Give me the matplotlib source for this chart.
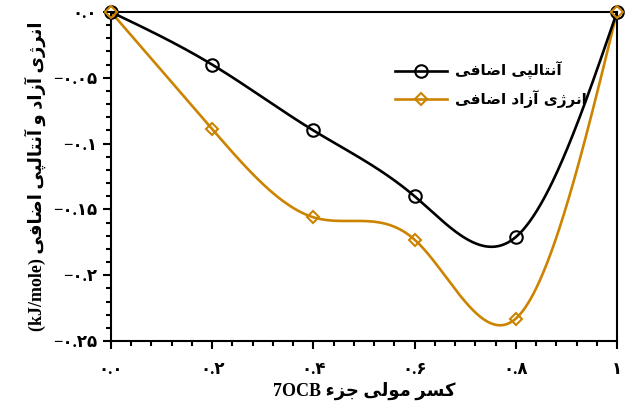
import numpy as np
import matplotlib
matplotlib.use("Agg")
import matplotlib.pyplot as plt
from matplotlib.ticker import MultipleLocator, FixedLocator

# ---------------- data ----------------
x_frac = [0.0, 0.2, 0.4, 0.6, 0.8, 1.0]
enthalpy = [0.0, -0.040, -0.090, -0.140, -0.171, 0.0]
free_energy = [0.0, -0.089, -0.156, -0.173, -0.233, 0.0]

x_ticks = [0.0, 0.2, 0.4, 0.6, 0.8, 1.0]
x_ticklabels = ["۰.۰", "۰.۲", "۰.۴", "۰.۶", "۰.۸", "۱"]
y_ticks = [0.0, -0.05, -0.1, -0.15, -0.2, -0.25]
y_ticklabels = ["۰.۰", "−۰.۰۵", "−۰.۱", "−۰.۱۵", "−۰.۲", "−۰.۲۵"]

label_enthalpy = "آنتالپی اضافی"
label_free = "انرژی آزاد اضافی"
xlabel_fa = "کسر مولی جزء"
xlabel_en = "7OCB"
ylabel_fa = "انرژی آزاد و آنتالپی اضافی"
ylabel_en = "(kJ/mole)"

# ------------- minimal Persian shaping -------------
# char: (isolated, final, initial, medial) ; None for initial/medial => right-joining only
FORMS = {
    "ا": ("\uFE8D", "\uFE8E", None, None),
    "آ": ("\uFE81", "\uFE82", None, None),
    "ر": ("\uFEAD", "\uFEAE", None, None),
    "ز": ("\uFEAF", "\uFEB0", None, None),
    "ژ": ("\uFB8A", "\uFB8B", None, None),
    "د": ("\uFEA9", "\uFEAA", None, None),
    "و": ("\uFEED", "\uFEEE", None, None),
    "ء": ("\uFE80", None, None, None),
    "ن": ("\uFEE5", "\uFEE6", "\uFEE7", "\uFEE8"),
    "ت": ("\uFE95", "\uFE96", "\uFE97", "\uFE98"),
    "ل": ("\uFEDD", "\uFEDE", "\uFEDF", "\uFEE0"),
    "پ": ("\uFB56", "\uFB57", "\uFB58", "\uFB59"),
    "ی": ("\uFBFC", "\uFBFD", "\uFBFE", "\uFBFF"),
    "ض": ("\uFEBD", "\uFEBE", "\uFEBF", "\uFEC0"),
    "ف": ("\uFED1", "\uFED2", "\uFED3", "\uFED4"),
    "ک": ("\uFB8E", "\uFB8F", "\uFB90", "\uFB91"),
    "س": ("\uFEB1", "\uFEB2", "\uFEB3", "\uFEB4"),
    "م": ("\uFEE1", "\uFEE2", "\uFEE3", "\uFEE4"),
    "ج": ("\uFE9D", "\uFE9E", "\uFE9F", "\uFEA0"),
}


def joins_next(ch):
    f = FORMS.get(ch)
    return f is not None and f[2] is not None


def joins_prev(ch):
    f = FORMS.get(ch)
    return f is not None and f[1] is not None


def rtl(s):
    out = []
    for i, ch in enumerate(s):
        if ch not in FORMS:
            out.append(ch)
            continue
        prev = s[i - 1] if i > 0 else ""
        nxt = s[i + 1] if i + 1 < len(s) else ""
        p = joins_next(prev) and joins_prev(ch)
        n = joins_next(ch) and joins_prev(nxt)
        iso, fin, ini, med = FORMS[ch]
        if p and n:
            out.append(med)
        elif p:
            out.append(fin)
        elif n:
            out.append(ini)
        else:
            out.append(iso)
    return "".join(reversed(out))


# ------------- spline -------------
def natural_spline(x, y, xs):
    x = np.asarray(x, float)
    y = np.asarray(y, float)
    n = len(x)
    h = np.diff(x)
    A = np.zeros((n, n))
    b = np.zeros(n)
    A[0, 0] = 1
    A[-1, -1] = 1
    for i in range(1, n - 1):
        A[i, i - 1] = h[i - 1]
        A[i, i] = 2 * (h[i - 1] + h[i])
        A[i, i + 1] = h[i]
        b[i] = 3 * ((y[i + 1] - y[i]) / h[i] - (y[i] - y[i - 1]) / h[i - 1])
    c = np.linalg.solve(A, b)
    bb = (y[1:] - y[:-1]) / h - h * (2 * c[:-1] + c[1:]) / 3
    d = (c[1:] - c[:-1]) / (3 * h)
    idx = np.clip(np.searchsorted(x, xs) - 1, 0, n - 2)
    dx = xs - x[idx]
    return y[idx] + bb[idx] * dx + c[idx] * dx ** 2 + d[idx] * dx ** 3


plt.rcParams["font.family"] = ["Liberation Serif", "DejaVu Sans"]

fig = plt.figure(figsize=(6.27, 4.03), dpi=100)
ax = fig.add_axes([111 / 627, 1 - 341 / 403, (617 - 111) / 627, (341 - 12) / 403])

black = "#000000"
orange = "#CC8400"

xs = np.linspace(0, 1, 400)
ax.plot(xs, natural_spline(x_frac, enthalpy, xs), color=black, lw=1.9, zorder=3)
ax.plot(xs, natural_spline(x_frac, free_energy, xs), color=orange, lw=1.9, zorder=2)
ax.plot(x_frac, enthalpy, ls="none", marker="o", ms=9, mfc="none", mec=black, mew=1.5,
        clip_on=False, zorder=4)
ax.plot(x_frac, free_energy, ls="none", marker="D", ms=6.5, mfc="none", mec=orange, mew=1.5,
        clip_on=False, zorder=4)

# legend handles
h1, = ax.plot([], [], color=black, lw=1.9, marker="o", ms=9, mfc="none", mec=black, mew=1.5)
h2, = ax.plot([], [], color=orange, lw=1.9, marker="D", ms=6.5, mfc="none", mec=orange, mew=1.5)
leg = ax.legend([h1, h2], [rtl(label_enthalpy), rtl(label_free)], loc="upper left",
                bbox_to_anchor=(0.535, 0.89), frameon=False, handlelength=3.4,
                labelspacing=0.65, handletextpad=0.5,
                prop={"family": ["DejaVu Sans"], "weight": "bold", "size": 11})

ax.set_xlim(0, 1)
ax.set_ylim(-0.25, 0)
ax.xaxis.set_major_locator(FixedLocator(x_ticks))
ax.yaxis.set_major_locator(FixedLocator(y_ticks))
ax.xaxis.set_minor_locator(MultipleLocator(0.04))
ax.yaxis.set_minor_locator(MultipleLocator(0.01))
ax.set_xticklabels(x_ticklabels, fontsize=12, fontweight="bold")
ax.set_yticklabels(y_ticklabels, fontsize=12, fontweight="bold")
ax.tick_params(which="major", direction="out", length=6, width=1.5)
ax.tick_params(which="minor", direction="out", length=3.5, width=1.5)
ax.tick_params(axis="x", which="major", pad=9)
ax.tick_params(axis="y", which="major", pad=4)
for s in ax.spines.values():
    s.set_linewidth(1.5)

ax.set_xlabel(xlabel_en + " " + rtl(xlabel_fa), fontsize=13, fontweight="bold", labelpad=3)
ax.set_ylabel(ylabel_en + " " + rtl(ylabel_fa), fontsize=13, fontweight="bold", labelpad=5)

fig.savefig("out.png", dpi=100)
